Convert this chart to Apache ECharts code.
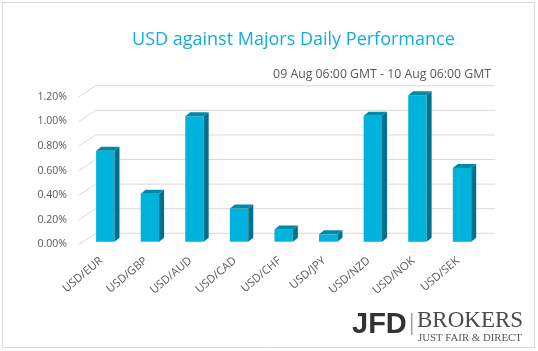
<!DOCTYPE html>
<html>
<head>
<meta charset="utf-8">
<script src="https://cdn.jsdelivr.net/npm/echarts@6/dist/echarts.min.js"></script>
<style>
  html, body { margin: 0; padding: 0; background: #fff; }
  #chart { width: 538px; height: 351px; }
</style>
</head>
<body>
<div id="chart"></div>
<script>
// 数据
const categories = ['USD/EUR', 'USD/GBP', 'USD/AUD', 'USD/CAD', 'USD/CHF', 'USD/JPY', 'USD/NZD', 'USD/NOK', 'USD/SEK']
const performance = [0.74, 0.39, 1.02, 0.27, 0.10, 0.06, 1.025, 1.19, 0.60]
const yTicks = [0, 0.2, 0.4, 0.6, 0.8, 1.0, 1.2]

// 3D 偏移
const depthX = 16.7
const depthY = 11
const frontShare = 0.24 // bar plane position inside the depth
const barHalf = 9.2
const barDx = 5
const barDy = 4

const chartInstance = echarts.init(document.getElementById('chart'))

const gridBar = { left: 83, right: 53.7, top: 94.1, bottom: 109.3 }
const gridFront = {
  left: gridBar.left - depthX * frontShare,
  right: gridBar.right + depthX * frontShare,
  top: gridBar.top + depthY * frontShare,
  bottom: gridBar.bottom - depthY * frontShare
}

const labelStyle = { color: '#595959', fontFamily: 'Open Sans', fontSize: 10.5 }

const option = {
  animation: false,
  grid: [gridBar, gridFront],
  xAxis: [
    { type: 'category', data: categories, gridIndex: 0, show: false },
    {
      type: 'category',
      data: categories,
      gridIndex: 1,
      axisLine: { show: false },
      axisTick: { show: false },
      axisLabel: { ...labelStyle, fontSize: 11.3, rotate: 40, margin: 15, interval: 0 }
    }
  ],
  yAxis: [
    { type: 'value', min: 0, max: 1.2, interval: 0.2, gridIndex: 0, show: false },
    {
      type: 'value',
      min: 0,
      max: 1.2,
      interval: 0.2,
      gridIndex: 1,
      axisLine: { show: false },
      axisTick: { show: false },
      splitLine: { show: false },
      axisLabel: {
        ...labelStyle,
        margin: 12,
        padding: [4, 0, 0, 0],
        formatter: v => v.toFixed(2) + '%'
      }
    }
  ],
  graphic: [
    {
      type: 'rect',
      shape: { x: 2.5, y: 2.5, width: 532, height: 345 },
      style: { fill: null, stroke: '#d9d9d9', lineWidth: 1 }
    },
    {
      type: 'text',
      style: {
        text: 'USD against Majors Daily Performance',
        x: 293.4, y: 40, textAlign: 'center', textVerticalAlign: 'middle',
        font: '18px "Open Sans"', fill: '#12aedd'
      }
    },
    {
      type: 'text',
      style: {
        text: '09 Aug 06:00 GMT - 10 Aug 06:00 GMT',
        x: 491, y: 74, textAlign: 'right', textVerticalAlign: 'middle',
        font: '12.3px "Open Sans"', fill: '#595959'
      }
    },
    // logo
    {
      type: 'text',
      style: {
        text: 'JFD', x: 352, y: 324.5, textAlign: 'left', textVerticalAlign: 'middle',
        font: 'bold 29px "Liberation Sans"', fill: '#333333'
      }
    },
    {
      type: 'line',
      shape: { x1: 411.7, y1: 313, x2: 411.7, y2: 335 },
      style: { stroke: '#9a9a9a', lineWidth: 1.5 }
    },
    {
      type: 'text',
      style: {
        text: 'BROKERS', x: 417, y: 321, textAlign: 'left', textVerticalAlign: 'middle',
        font: '23px "Liberation Serif"', fill: '#4a4a4a'
      }
    },
    {
      type: 'text',
      style: {
        text: 'JUST FAIR & DIRECT', x: 418, y: 338.5, textAlign: 'left', textVerticalAlign: 'middle',
        font: '10.8px "Liberation Serif"', fill: '#555555'
      }
    }
  ],
  series: [
    {
      // 网格线 (front diagonal + back wall)
      type: 'custom',
      xAxisIndex: 0,
      yAxisIndex: 0,
      z: 1,
      data: yTicks.map(v => [0, v]),
      renderItem (params, api) {
        const cs = params.coordSys
        const y = api.coord([0, api.value(1)])[1]
        const fx = cs.x - depthX * frontShare
        const fy = y + depthY * frontShare
        const bx = cs.x + depthX * (1 - frontShare)
        const by = y - depthY * (1 - frontShare)
        return {
          type: 'polyline',
          shape: { points: [[fx, fy], [bx, by], [cs.x + cs.width + depthX * (1 - frontShare) - 2, by]] },
          style: { fill: null, stroke: '#d9d9d9', lineWidth: 1 }
        }
      }
    },
    {
      // 3D 柱子
      type: 'custom',
      xAxisIndex: 0,
      yAxisIndex: 0,
      z: 2,
      data: performance.map((v, i) => [i, v]),
      renderItem (params, api) {
        const top = api.coord([api.value(0), api.value(1)])
        const base = api.coord([api.value(0), 0])
        const x0 = top[0] - barHalf
        const x1 = top[0] + barHalf
        const yt = top[1]
        const yb = base[1]
        return {
          type: 'group',
          children: [
            {
              type: 'rect',
              shape: { x: x0, y: yt, width: x1 - x0, height: yb - yt },
              style: { fill: '#00b2dc' }
            },
            {
              type: 'polygon',
              shape: { points: [[x1, yt], [x1 + barDx, yt - barDy], [x1 + barDx, yb - barDy], [x1, yb]] },
              style: { fill: '#00718c' }
            },
            {
              type: 'polygon',
              shape: { points: [[x0, yt], [x0 + barDx, yt - barDy], [x1 + barDx, yt - barDy], [x1, yt]] },
              style: { fill: '#0089a8' }
            }
          ]
        }
      }
    }
  ]
}

chartInstance.setOption(option)
</script>
</body>
</html>
